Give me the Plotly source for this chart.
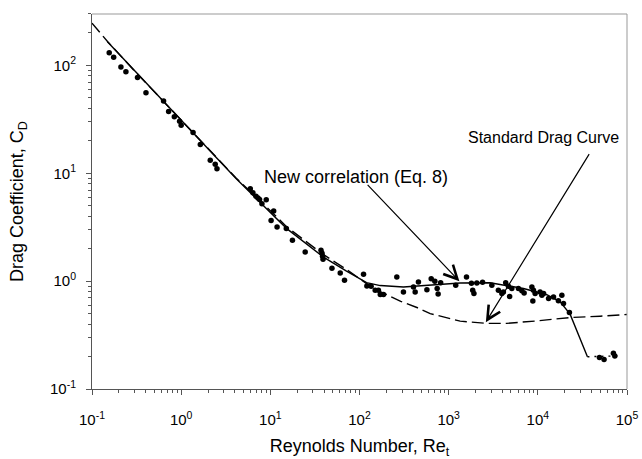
import plotly.graph_objects as go

# ---------------- data ----------------
# experimental points (Re_t, C_D)
re_pts = [0.156, 0.175, 0.211, 0.240, 0.324, 0.403, 0.635, 0.723, 0.838, 0.96, 1.0,
          1.36, 1.64, 2.12, 2.41, 2.52,
          5.96, 6.38, 6.90, 7.26, 7.57, 9.0, 8.05, 10.9, 10.2, 11.9, 15.1, 17.7, 24.6,
          37, 38, 38.5, 39, 49.1, 60.8, 67.9, 111, 121, 135, 150, 163, 171, 186,
          262, 311, 403, 421, 458, 570, 637, 700, 743, 762, 813, 1200, 1585, 1800,
          1860, 1920, 2070, 2400, 3050, 3610, 3950, 4110, 4360, 4680, 4830, 5110,
          6060, 6620, 7020, 8570, 8930, 8790, 9330, 10600, 11100, 11600, 13200,
          15000, 17000, 18600, 19400, 22600, 49100, 55300, 70400, 73000]
cd_pts = [131, 119, 96.6, 87.5, 77.5, 55.9, 46.9, 37.5, 33.5, 30.3, 27.9,
          23.9, 18.5, 13.2, 12.1, 11.0,
          7.19, 6.61, 6.14, 5.89, 5.73, 5.69, 5.22, 4.46, 3.66, 3.17, 3.07, 2.39, 1.86,
          1.93, 1.81, 1.70, 1.60, 1.32, 1.19, 1.02, 1.16, 0.903, 0.897, 0.824, 0.824, 0.751, 0.751,
          1.09, 0.794, 0.883, 0.794, 0.984, 0.832, 1.05, 1.0, 0.855, 0.762, 0.966, 0.916, 1.09, 0.957,
          0.824, 0.767, 0.962, 0.977, 0.916, 0.824, 0.767, 0.794, 0.966, 0.897, 0.722, 0.855,
          0.855, 0.815, 0.778, 0.883, 0.824, 0.656, 0.767, 0.794, 0.741, 0.767, 0.690,
          0.714, 0.659, 0.741, 0.621, 0.513, 0.196, 0.188, 0.214, 0.202]

# new correlation (Eq. 8), solid line
re_new = [0.149, 0.3, 0.787, 2, 4.15, 10, 15.3, 39.5, 70, 120, 171, 311, 621,
          1345, 2920, 6900, 12600, 17800, 23000, 26200, 29800, 36000]
cd_new = [166, 89, 38.4, 16.9, 8.9, 4.34, 3.07, 1.67, 1.25, 0.97, 0.91, 0.883, 0.916,
          0.962, 0.966, 0.855, 0.748, 0.643, 0.494, 0.377, 0.284, 0.199]

# extension of the correlation (dotted)
re_ext = [36000, 84000]
cd_ext = [0.199, 0.203]

# standard drag curve, dashed line
re_std = [0.1, 0.15, 0.3, 0.787, 2, 4.15, 10, 15.3, 39.5, 70, 120, 171, 290, 440,
          621, 1000, 1345, 2680, 4490, 9750, 23000, 50000, 100000]
cd_std = [247, 166, 89, 38.6, 17.0, 9.0, 4.5, 3.18, 1.76, 1.30, 0.95, 0.80, 0.65, 0.57,
          0.50, 0.455, 0.426, 0.406, 0.406, 0.428, 0.46, 0.473, 0.491]

x_tickvals = [0.1, 1, 10, 100, 1000, 10000, 100000]
x_ticktext = ["10<sup>-1</sup>", "10<sup>0</sup>", "10<sup>1</sup>", "10<sup>2</sup>",
              "10<sup>3</sup>", "10<sup>4</sup>", "10<sup>5</sup>"]
y_tickvals = [0.1, 1, 10, 100]
y_ticktext = ["10<sup>-1</sup>", "10<sup>0</sup>", "10<sup>1</sup>", "10<sup>2</sup>"]

x_minor = [m * 10.0 ** e for e in range(-1, 5) for m in range(2, 10)]
y_minor = [m * 10.0 ** e for e in range(-1, 3) for m in range(2, 10) if m * 10.0 ** e <= 300]

FONT = "Arial, Liberation Sans, sans-serif"

fig = go.Figure()
fig.add_trace(go.Scatter(x=re_std, y=cd_std, mode="lines",
                         line=dict(color="black", width=1.4, dash="12px,5px"),
                         showlegend=False))
fig.add_trace(go.Scatter(x=re_new, y=cd_new, mode="lines",
                         line=dict(color="black", width=1.4),
                         showlegend=False))
fig.add_trace(go.Scatter(x=re_ext, y=cd_ext, mode="lines",
                         line=dict(color="black", width=1.4, dash="2px,5px"),
                         showlegend=False))
fig.add_trace(go.Scatter(x=re_pts, y=cd_pts, mode="markers",
                         marker=dict(color="black", size=5.5),
                         showlegend=False))

axis_common = dict(
    type="log", showgrid=False, zeroline=False, automargin=False,
    showline=True, linecolor="#555555", linewidth=1,
    ticks="outside", ticklen=5, tickwidth=1, tickcolor="#555555",
    tickmode="array",
    tickfont=dict(family=FONT, size=15, color="black"),
)

fig.update_layout(
    width=642, height=459,
    margin=dict(l=92, r=15, t=14, b=70),
    paper_bgcolor="white", plot_bgcolor="white",
    font=dict(family=FONT, color="black"),
    xaxis=dict(axis_common, range=[-1, 5], tickvals=x_tickvals, ticktext=x_ticktext,
               ticklabelstandoff=12,
               minor=dict(tickmode="array", tickvals=x_minor, ticks="outside",
                          ticklen=3, tickcolor="#555555"),
               title=dict(text="Reynolds Number, Re<sub>t</sub>",
                          font=dict(family=FONT, size=18, color="black"), standoff=15)),
    yaxis=dict(axis_common, range=[-1, 2.477], tickvals=y_tickvals, ticktext=y_ticktext,
               ticklabelstandoff=7,
               minor=dict(tickmode="array", tickvals=y_minor, ticks="outside",
                          ticklen=3, tickcolor="#555555"),
               title=dict(text="Drag Coefficient, C<sub>D</sub>",
                          font=dict(family=FONT, size=18, color="black"), standoff=21)),
)

# top / right frame
fig.add_shape(type="line", xref="paper", yref="paper", x0=0, x1=1, y0=1, y1=1,
              line=dict(color="#999999", width=1))
fig.add_shape(type="line", xref="paper", yref="paper", x0=1, x1=1, y0=0, y1=1,
              line=dict(color="#999999", width=1))

# annotations (coordinates in log10 units for log axes)
fig.add_annotation(x=0.909, y=0.970, xref="x", yref="y", text="New correlation (Eq. 8)",
                   showarrow=False, xanchor="left", yanchor="middle",
                   font=dict(family=FONT, size=18, color="black"))
fig.add_annotation(x=4.934, y=1.331, xref="x", yref="y", text="Standard Drag Curve",
                   showarrow=False, xanchor="right", yanchor="middle",
                   font=dict(family=FONT, size=16, color="black"))
fig.add_annotation(x=3.12, y=0.0, ax=2.075, ay=0.906, xref="x", yref="y",
                   axref="x", ayref="y", text="", showarrow=True,
                   arrowhead=5, arrowsize=2.2, arrowwidth=1.2, arrowcolor="black")
fig.add_annotation(x=3.417, y=-0.38, ax=4.586, ay=1.192, xref="x", yref="y",
                   axref="x", ayref="y", text="", showarrow=True,
                   arrowhead=5, arrowsize=2.2, arrowwidth=1.2, arrowcolor="black")

fig.write_html("out.html")
